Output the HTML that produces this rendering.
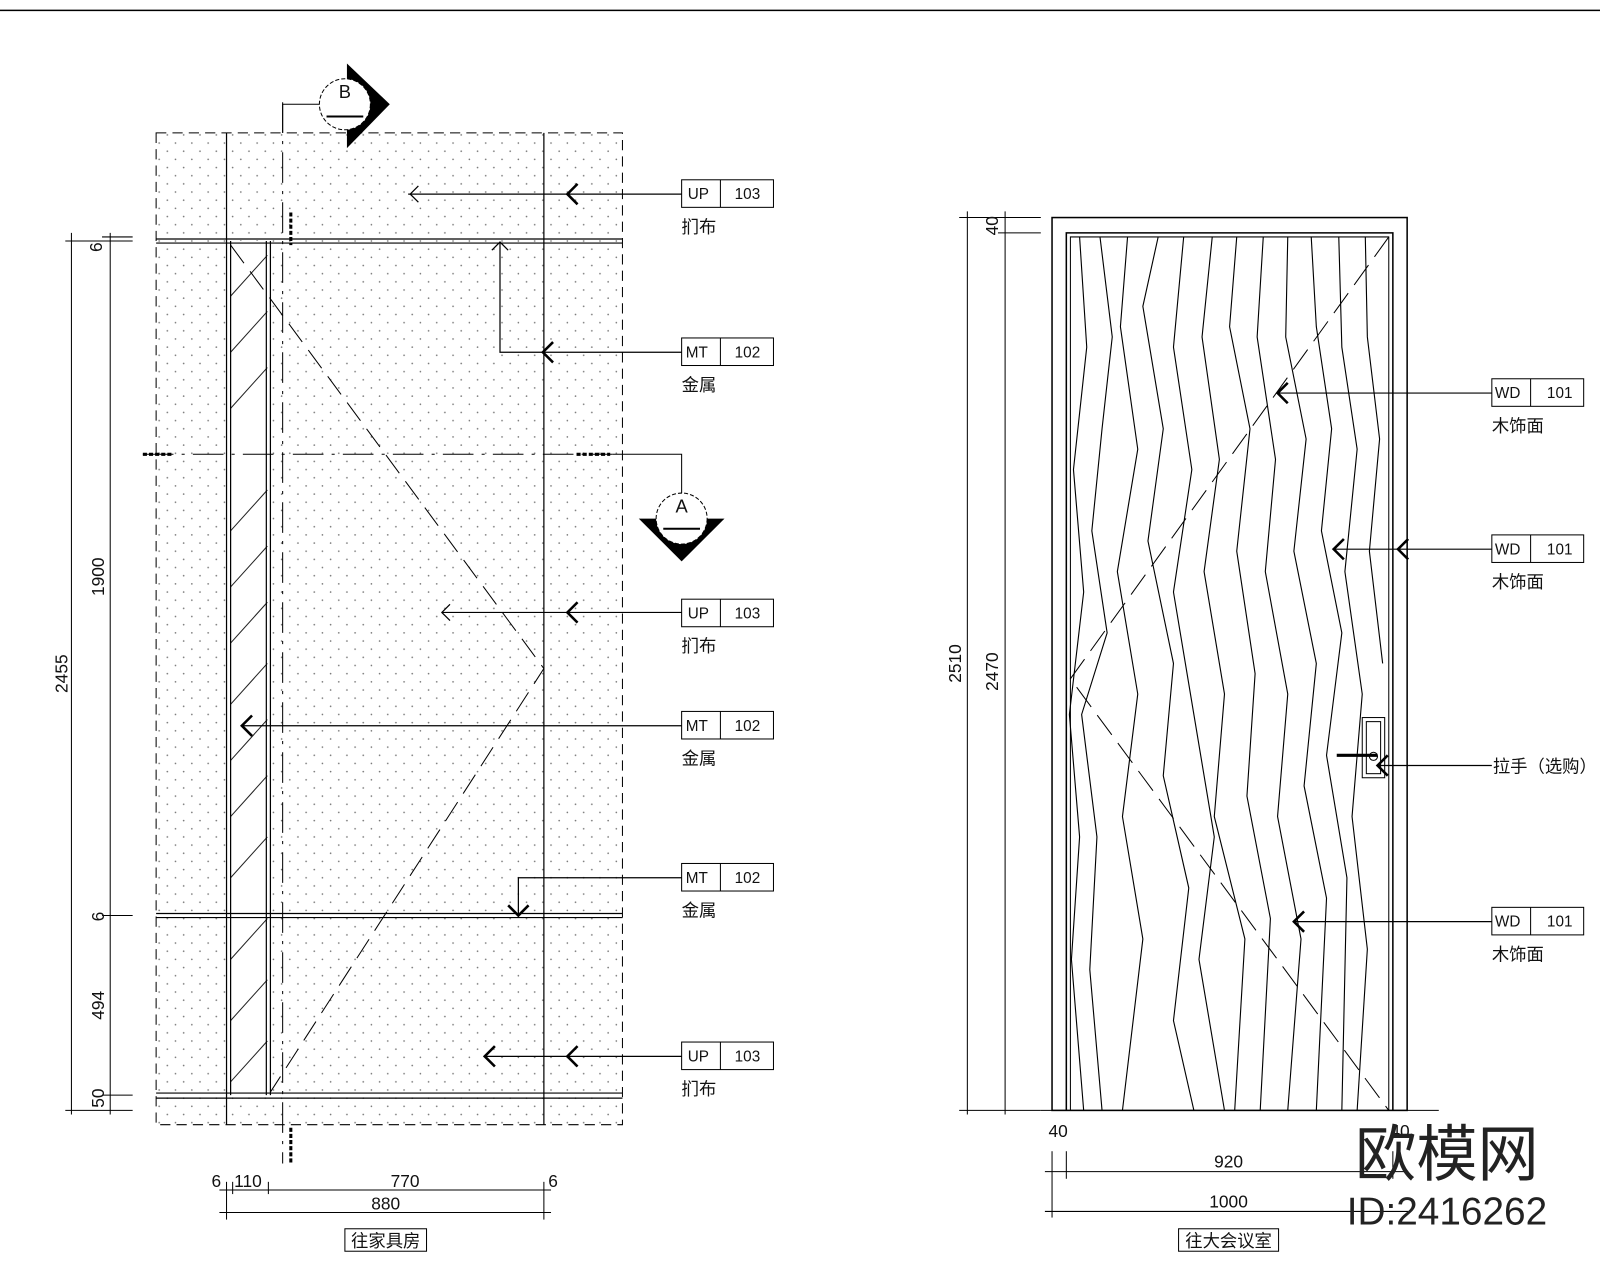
<!DOCTYPE html>
<html><head><meta charset="utf-8"><style>
html,body{margin:0;padding:0;background:#fff;}
svg{display:block;}
text{font-family:"Liberation Sans","Noto Sans CJK SC",sans-serif;fill:#111;}
</style></head><body>
<svg width="1600" height="1280" viewBox="0 0 1568 1254" xmlns="http://www.w3.org/2000/svg">
<defs>
<pattern id="dots" width="16" height="16" patternUnits="userSpaceOnUse">
<circle cx="4" cy="4" r="0.8" fill="#777"/><circle cx="12" cy="12" r="0.8" fill="#777"/>
</pattern>
<pattern id="hatch" width="14" height="14" patternUnits="userSpaceOnUse" patternTransform="rotate(-45)">
<line x1="0" y1="0" x2="0" y2="14" stroke="#333" stroke-width="1" transform="translate(0,0)"/>
</pattern>
</defs>
<line x1="0" y1="10" x2="1568" y2="10" stroke="#000" stroke-width="1.5"/>

<!-- LEFT PANEL -->
<rect x="153" y="130" width="457" height="972" fill="url(#dots)" stroke="#000" stroke-dasharray="10,6"/>
<rect x="222" y="236" width="43" height="837" fill="#fff"/>
<g stroke="#222" stroke-width="1">
<line x1="226" y1="290" x2="262" y2="250"/><line x1="226" y1="345" x2="262" y2="305"/>
<line x1="226" y1="400" x2="262" y2="360"/><line x1="226" y1="520" x2="262" y2="480"/>
<line x1="226" y1="575" x2="262" y2="535"/><line x1="226" y1="630" x2="262" y2="590"/>
<line x1="226" y1="690" x2="262" y2="650"/><line x1="226" y1="745" x2="262" y2="705"/>
<line x1="226" y1="800" x2="262" y2="760"/><line x1="226" y1="860" x2="262" y2="820"/>
<line x1="226" y1="940" x2="262" y2="900"/><line x1="226" y1="1000" x2="262" y2="960"/>
<line x1="226" y1="1060" x2="262" y2="1020"/>
</g>
<g stroke="#000" stroke-width="1.2">
<line x1="222" y1="130" x2="222" y2="1102"/><line x1="226" y1="236" x2="226" y2="1073"/>
<line x1="265" y1="236" x2="265" y2="1073"/><line x1="261" y1="236" x2="261" y2="1073"/>
<line x1="533" y1="130" x2="533" y2="1102"/>
<line x1="153" y1="234" x2="610" y2="234"/><line x1="153" y1="238" x2="610" y2="238"/>
<line x1="153" y1="895" x2="610" y2="895"/><line x1="153" y1="899" x2="610" y2="899"/>
<line x1="153" y1="1071" x2="610" y2="1071"/><line x1="153" y1="1076" x2="610" y2="1076"/>
</g>
<polyline points="226,240 533,655 265,1070" fill="none" stroke="#000" stroke-dasharray="22,10"/>
<line x1="140" y1="445" x2="600" y2="445" stroke="#000" stroke-dasharray="30,8,3,8"/>
<line x1="277" y1="100" x2="277" y2="1140" stroke="#000" stroke-dasharray="30,8,3,8"/>
<line x1="140" y1="445" x2="170" y2="445" stroke="#000" stroke-width="3" stroke-dasharray="4,2"/>
<line x1="565" y1="445" x2="598" y2="445" stroke="#000" stroke-width="3" stroke-dasharray="4,2"/>
<line x1="285" y1="208" x2="285" y2="240" stroke="#000" stroke-width="3" stroke-dasharray="4,2"/>
<line x1="285" y1="1105" x2="285" y2="1140" stroke="#000" stroke-width="3" stroke-dasharray="4,2"/>
<!-- B marker -->
<polyline points="277,130 277,102 313,102" fill="none" stroke="#000"/>
<polygon points="340,62 382,102 340,145" fill="#000"/>
<circle cx="338" cy="102" r="25" fill="#fff" stroke="#000" stroke-dasharray="4,2"/>
<text x="338" y="96" font-size="18" text-anchor="middle">B</text>
<line x1="320" y1="114" x2="356" y2="114" stroke="#000" stroke-width="2"/>
<!-- A marker -->
<polyline points="600,445 668,445 668,485" fill="none" stroke="#000"/>
<polygon points="626,508 710,508 668,550" fill="#000"/>
<circle cx="668" cy="508" r="25" fill="#fff" stroke="#000" stroke-dasharray="4,2"/>
<text x="668" y="502" font-size="18" text-anchor="middle">A</text>
<line x1="650" y1="518" x2="686" y2="518" stroke="#000" stroke-width="2"/>

<!-- leaders left -->
<g stroke="#000" stroke-width="1.2" fill="none">
<line x1="400" y1="190" x2="668" y2="190"/><polyline points="410,182 402,190 410,198"/><polyline points="566,180 556,190 566,200" stroke-width="2.5"/>
<polyline points="668,345 490,345 490,237"/><polyline points="482,245 490,237 498,245"/><polyline points="542,335 532,345 542,355" stroke-width="2.5"/>
<line x1="433" y1="600" x2="668" y2="600"/><polyline points="441,592 433,600 441,608"/><polyline points="566,590 556,600 566,610" stroke-width="2.5"/>
<line x1="237" y1="711" x2="668" y2="711"/><polyline points="247,701 237,711 247,721" stroke-width="2.5"/>
<polyline points="668,860 508,860 508,897"/><polyline points="498,887 508,897 518,887" stroke-width="2.5"/>
<line x1="475" y1="1035" x2="668" y2="1035"/><polyline points="485,1025 475,1035 485,1045" stroke-width="2.5"/><polyline points="566,1025 556,1035 566,1045" stroke-width="2.5"/>
</g>
<g font-size="15">
<g transform="translate(668,176)"><rect width="90" height="27" fill="#fff" stroke="#000"/><line x1="38" y1="0" x2="38" y2="27" stroke="#000"/><text x="6" y="19">UP</text><text x="52" y="19">103</text><text x="0" y="52" font-size="17">扪布</text></g>
<g transform="translate(668,331)"><rect width="90" height="27" fill="#fff" stroke="#000"/><line x1="38" y1="0" x2="38" y2="27" stroke="#000"/><text x="4" y="19">MT</text><text x="52" y="19">102</text><text x="0" y="52" font-size="17">金属</text></g>
<g transform="translate(668,587)"><rect width="90" height="27" fill="#fff" stroke="#000"/><line x1="38" y1="0" x2="38" y2="27" stroke="#000"/><text x="6" y="19">UP</text><text x="52" y="19">103</text><text x="0" y="52" font-size="17">扪布</text></g>
<g transform="translate(668,697)"><rect width="90" height="27" fill="#fff" stroke="#000"/><line x1="38" y1="0" x2="38" y2="27" stroke="#000"/><text x="4" y="19">MT</text><text x="52" y="19">102</text><text x="0" y="52" font-size="17">金属</text></g>
<g transform="translate(668,846)"><rect width="90" height="27" fill="#fff" stroke="#000"/><line x1="38" y1="0" x2="38" y2="27" stroke="#000"/><text x="4" y="19">MT</text><text x="52" y="19">102</text><text x="0" y="52" font-size="17">金属</text></g>
<g transform="translate(668,1021)"><rect width="90" height="27" fill="#fff" stroke="#000"/><line x1="38" y1="0" x2="38" y2="27" stroke="#000"/><text x="6" y="19">UP</text><text x="52" y="19">103</text><text x="0" y="52" font-size="17">扪布</text></g>
</g>
<!-- left dims -->
<g stroke="#000" stroke-width="1">
<line x1="70" y1="228" x2="70" y2="1092"/><line x1="108" y1="228" x2="108" y2="1092"/>
<line x1="64" y1="236" x2="130" y2="236"/><line x1="100" y1="232" x2="130" y2="232"/>
<line x1="100" y1="897" x2="130" y2="897"/><line x1="100" y1="1073" x2="130" y2="1073"/>
<line x1="64" y1="1088" x2="130" y2="1088"/>
<line x1="215" y1="1166" x2="540" y2="1166"/><line x1="215" y1="1188" x2="540" y2="1188"/>
<line x1="222" y1="1158" x2="222" y2="1195"/><line x1="228" y1="1158" x2="228" y2="1170"/>
<line x1="263" y1="1158" x2="263" y2="1170"/><line x1="533" y1="1158" x2="533" y2="1195"/>
</g>
<g font-size="17">
<text transform="translate(100,242) rotate(-90)" text-anchor="middle">6</text>
<text transform="translate(102,565) rotate(-90)" text-anchor="middle">1900</text>
<text transform="translate(66,660) rotate(-90)" text-anchor="middle">2455</text>
<text transform="translate(102,898) rotate(-90)" text-anchor="middle">6</text>
<text transform="translate(102,985) rotate(-90)" text-anchor="middle">494</text>
<text transform="translate(102,1076) rotate(-90)" text-anchor="middle">50</text>
<text x="212" y="1163" text-anchor="middle">6</text><text x="243" y="1163" text-anchor="middle">110</text>
<text x="397" y="1163" text-anchor="middle">770</text><text x="542" y="1163" text-anchor="middle">6</text>
<text x="378" y="1185" text-anchor="middle">880</text>
<rect x="338" y="1204" width="80" height="22" fill="#fff" stroke="#000"/><text x="378" y="1222" text-anchor="middle">往家具房</text>
</g>

<!-- RIGHT DOOR -->
<rect x="1031" y="213" width="348" height="875" fill="none" stroke="#000" stroke-width="1.5"/>
<polyline points="1045,1088 1045,228 1365,228 1365,1088" fill="none" stroke="#000" stroke-width="1.5"/>
<polyline points="1049,1088 1049,232 1361,232 1361,1088" fill="none" stroke="#000" stroke-width="1"/>
<line x1="1020" y1="1088" x2="1410" y2="1088" stroke="#000"/>
<g fill="none" stroke="#000" stroke-width="1.1">
<polyline points="1078,232 1090,330 1080,420 1070,520 1085,620 1060,700 1075,820 1068,950 1080,1088"/>
<polyline points="1105,232 1098,320 1115,440 1095,560 1115,680 1100,800 1120,920 1100,1088"/>
<polyline points="1135,232 1120,300 1140,420 1125,530 1150,650 1140,760 1165,870 1150,1000 1170,1088"/>
<polyline points="1160,232 1150,340 1168,460 1150,580 1170,700 1190,820 1175,940 1200,1088"/>
<polyline points="1188,232 1178,330 1195,450 1180,560 1200,680 1190,800 1220,920 1210,1088"/>
<polyline points="1212,232 1205,320 1225,420 1212,540 1230,660 1222,780 1245,900 1235,1088"/>
<polyline points="1238,232 1232,330 1250,450 1240,560 1262,680 1252,800 1275,920 1262,1088"/>
<polyline points="1262,232 1260,330 1280,430 1268,540 1290,650 1278,770 1300,880 1290,1088"/>
<polyline points="1285,232 1290,320 1305,420 1295,520 1315,620 1300,740 1320,860 1315,1088"/>
<polyline points="1312,232 1315,340 1330,440 1318,560 1335,680 1325,800 1340,930 1330,1088"/>
<polyline points="1338,232 1340,330 1352,430 1342,540 1355,650"/>
<polyline points="1058,232 1065,340 1052,460 1062,580 1048,700 1058,820 1050,940 1062,1088"/>
</g>
<polyline points="1361,232 1049,665 1361,1088" fill="none" stroke="#000" stroke-dasharray="24,10"/>
<rect x="1335" y="703" width="22" height="59" fill="#fff" stroke="#000"/>
<rect x="1339" y="707" width="14" height="51" fill="none" stroke="#000"/>
<line x1="1310" y1="740" x2="1350" y2="740" stroke="#000" stroke-width="3"/>
<circle cx="1346" cy="768" r="0" />
<circle cx="1346" cy="741" r="4" fill="none" stroke="#000"/>
<!-- right leaders -->
<g stroke="#000" stroke-width="1.2" fill="none">
<line x1="1252" y1="385" x2="1462" y2="385"/><polyline points="1262,375 1252,385 1262,395" stroke-width="2.5"/>
<line x1="1307" y1="538" x2="1462" y2="538"/><polyline points="1317,528 1307,538 1317,548" stroke-width="2.5"/><polyline points="1380,528 1370,538 1380,548" stroke-width="2.5"/>
<line x1="1350" y1="750" x2="1462" y2="750"/><polyline points="1360,740 1350,750 1360,760" stroke-width="2.5"/>
<line x1="1268" y1="903" x2="1462" y2="903"/><polyline points="1278,893 1268,903 1278,913" stroke-width="2.5"/>
</g>
<g font-size="15">
<g transform="translate(1462,371)"><rect width="90" height="27" fill="#fff" stroke="#000"/><line x1="38" y1="0" x2="38" y2="27" stroke="#000"/><text x="3" y="19">WD</text><text x="54" y="19">101</text><text x="0" y="52" font-size="17">木饰面</text></g>
<g transform="translate(1462,524)"><rect width="90" height="27" fill="#fff" stroke="#000"/><line x1="38" y1="0" x2="38" y2="27" stroke="#000"/><text x="3" y="19">WD</text><text x="54" y="19">101</text><text x="0" y="52" font-size="17">木饰面</text></g>
<g transform="translate(1462,889)"><rect width="90" height="27" fill="#fff" stroke="#000"/><line x1="38" y1="0" x2="38" y2="27" stroke="#000"/><text x="3" y="19">WD</text><text x="54" y="19">101</text><text x="0" y="52" font-size="17">木饰面</text></g>
<text x="1463" y="757" font-size="17">拉手（选购）</text>
</g>
<!-- right dims -->
<g stroke="#000" stroke-width="1">
<line x1="948" y1="207" x2="948" y2="1092"/><line x1="985" y1="207" x2="985" y2="1092"/>
<line x1="940" y1="213" x2="1020" y2="213"/><line x1="978" y1="228" x2="1020" y2="228"/>
<line x1="940" y1="1088" x2="1020" y2="1088"/>
<line x1="1024" y1="1148" x2="1380" y2="1148"/><line x1="1024" y1="1187" x2="1380" y2="1187"/>
<line x1="1031" y1="1128" x2="1031" y2="1193"/><line x1="1045" y1="1128" x2="1045" y2="1155"/>
<line x1="1365" y1="1128" x2="1365" y2="1155"/>
</g>
<g font-size="17">
<text transform="translate(978,221) rotate(-90)" text-anchor="middle">40</text>
<text transform="translate(978,658) rotate(-90)" text-anchor="middle">2470</text>
<text transform="translate(942,650) rotate(-90)" text-anchor="middle">2510</text>
<text x="1037" y="1114" text-anchor="middle">40</text><text x="1372" y="1114" text-anchor="middle">40</text>
<text x="1204" y="1144" text-anchor="middle">920</text>
<text x="1204" y="1183" text-anchor="middle">1000</text>
<rect x="1155" y="1204" width="98" height="22" fill="#fff" stroke="#000"/><text x="1204" y="1222" text-anchor="middle">往大会议室</text>
</g>
<!-- watermark -->
<text x="1418" y="1152" font-size="60" text-anchor="middle" fill="#222" style="fill:#222">欧模网</text>
<text x="1418" y="1200" font-size="38" text-anchor="middle" style="fill:#222">ID:2416262</text>
</svg>
</body></html>
